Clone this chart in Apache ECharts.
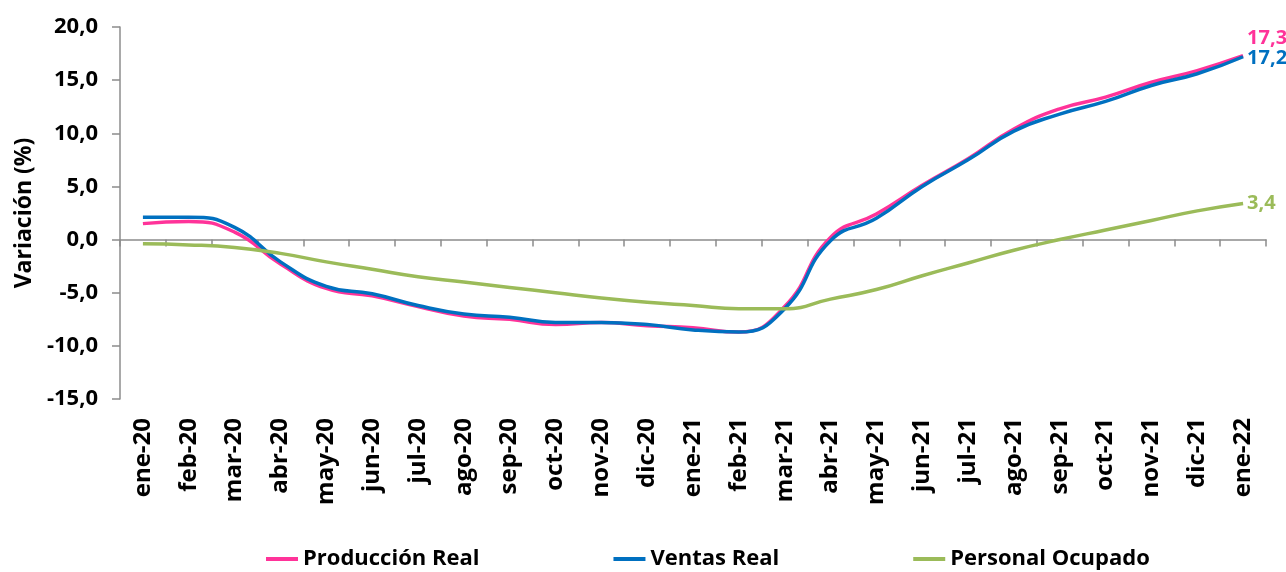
<!DOCTYPE html>
<html>
<head>
<meta charset="utf-8">
<script src="https://cdn.jsdelivr.net/npm/echarts@6/dist/echarts.min.js"></script>
<style>
  html, body { margin: 0; padding: 0; background: #fff; }
  #chart { width: 1286px; height: 572px; }
</style>
</head>
<body>
<div id="chart"></div>
<script>
// meses (ene-20 .. ene-22)
const months = ['ene-20','feb-20','mar-20','abr-20','may-20','jun-20','jul-20','ago-20','sep-20','oct-20','nov-20','dic-20',
                'ene-21','feb-21','mar-21','abr-21','may-21','jun-21','jul-21','ago-21','sep-21','oct-21','nov-21','dic-21','ene-22'];
// variación (%)
const produccion = [1.5, 1.7, 0.7, -2.3, -4.6, -5.3, -6.3, -7.2, -7.5, -8.0, -7.8, -8.1,
                    -8.3, -8.7, -6.3, 0.2, 2.4, 5.1, 7.6, 10.4, 12.3, 13.4, 14.8, 15.9, 17.3];
const ventas     = [2.1, 2.1, 1.15, -2.1, -4.4, -5.1, -6.2, -7.0, -7.3, -7.8, -7.8, -8.0,
                    -8.5, -8.7, -6.5, -0.1, 2.0, 5.0, 7.5, 10.2, 11.8, 13.0, 14.5, 15.6, 17.2];
const personal   = [-0.4, -0.5, -0.75, -1.3, -2.1, -2.8, -3.5, -4.0, -4.5, -5.0, -5.5, -5.9,
                    -6.2, -6.5, -6.5, -5.6, -4.7, -3.4, -2.2, -1.0, 0.0, 0.9, 1.8, 2.7, 3.4];
const yTicks = { min: -15, max: 20, step: 5 };

const FONT = '"Open Sans", "DejaVu Sans", sans-serif';
const fmt = v => v.toFixed(1).replace('.', ',');

const chart = echarts.init(document.getElementById('chart'));

function lineSeries(name, data, color, offset) {
  return {
    name: name,
    type: 'line',
    data: data,
    smooth: 0.5,
    symbol: 'none',
    xAxisIndex: 0,
    color: color,
    lineStyle: { width: 3.5, color: color },
    endLabel: {
      show: true,
      distance: 4,
      offset: offset,
      color: color,
      fontFamily: FONT,
      fontWeight: 'bold',
      fontSize: 20,
      formatter: p => fmt(p.value)
    }
  };
}

const option = {
  animation: false,
  backgroundColor: '#fff',
  textStyle: { fontFamily: FONT },
  grid: { left: 120, right: 20, top: 27, bottom: 173, outerBoundsMode: 'none' },
  legend: {
    left: 261,
    top: 543,
    icon: 'rect',
    itemWidth: 32,
    itemHeight: 4,
    itemGap: 134,
    textStyle: { fontFamily: FONT, fontWeight: 'bold', fontSize: 22, color: '#000' },
    data: ['Producción Real', 'Ventas Real', 'Personal Ocupado']
  },
  xAxis: [
    {
      type: 'category',
      data: months,
      boundaryGap: true,
      position: 'bottom',
      axisLine: { show: false, onZero: false },
      axisTick: { show: false },
      axisLabel: {
        rotate: 90,
        margin: 19,
        interval: 0,
        color: '#000',
        fontFamily: FONT,
        fontWeight: 'bold',
        fontSize: 24
      }
    },
    {
      // eje en el cero con marcas
      type: 'category',
      data: months,
      boundaryGap: true,
      position: 'top',
      axisLine: { show: true, onZero: true, lineStyle: { color: '#8c8c8c', width: 1.5 } },
      axisTick: { show: true, inside: true, length: 7, interval: 0, lineStyle: { color: '#8c8c8c', width: 1.5 } },
      axisLabel: { show: false }
    }
  ],
  yAxis: {
    type: 'value',
    min: yTicks.min,
    max: yTicks.max,
    interval: yTicks.step,
    name: 'Variación (%)',
    nameLocation: 'middle',
    nameGap: 82,
    nameTextStyle: { fontFamily: FONT, fontWeight: 'bold', fontSize: 23, color: '#000' },
    axisLine: { show: true, lineStyle: { color: '#8c8c8c', width: 1.5 } },
    axisTick: { show: true, length: 8, lineStyle: { color: '#8c8c8c', width: 1.5 } },
    splitLine: { show: false },
    axisLabel: {
      margin: 22,
      color: '#000',
      fontFamily: FONT,
      fontWeight: 'bold',
      fontSize: 22,
      formatter: v => fmt(v)
    }
  },
  series: [
    lineSeries('Producción Real', produccion, '#ff3399', [0, -17]),
    lineSeries('Ventas Real', ventas, '#0070c0', [0, 2]),
    lineSeries('Personal Ocupado', personal, '#9bbb59', [0, 0])
  ]
};

chart.setOption(option);
</script>
</body>
</html>
